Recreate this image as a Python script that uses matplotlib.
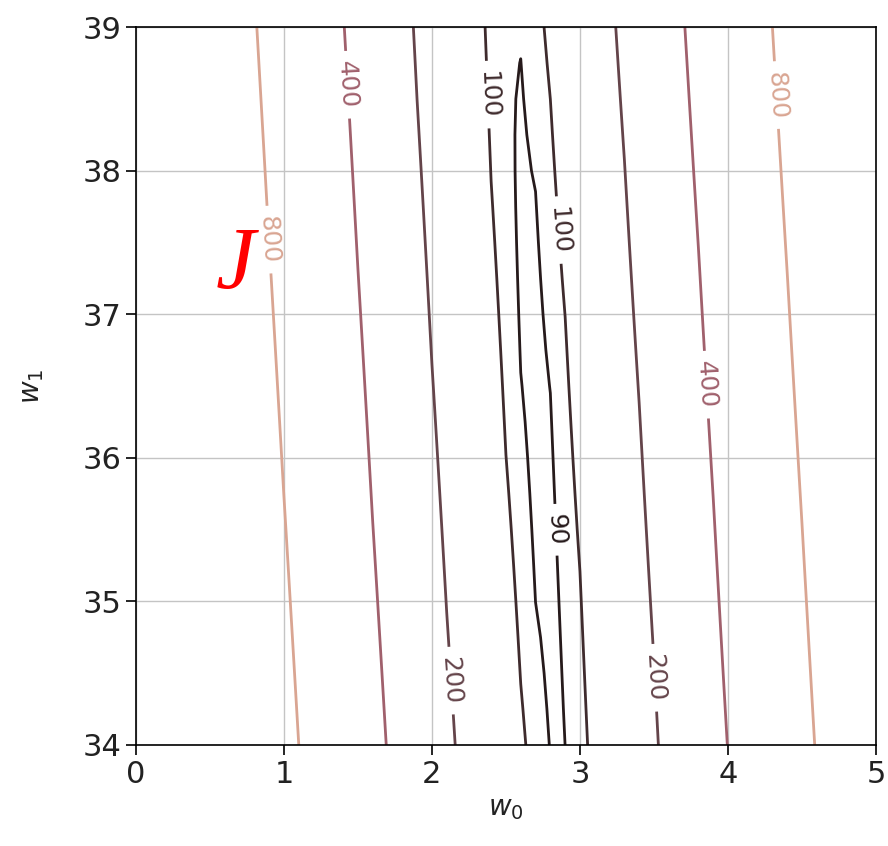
import numpy as np
import matplotlib
matplotlib.use("Agg")
from matplotlib import pyplot as plt

# cost surface J(w0, w1): quadratic bowl around a tilted valley
J_MIN = 87.8
W0_CENTRE = 2.718
W1_CENTRE = 36.2
VALLEY_SLOPE = -0.057     # shift of the valley centre in w0 per unit w1
CURV_W0 = 234.0
CURV_W1 = 0.30

levels = [90, 100, 200, 400, 800]
level_colors = ["#261a1b", "#3f2b2d", "#64444a", "#a0606c", "#d9a592"]
w0_range = [0, 5]
w1_range = [34, 39]
x_ticks = [0, 1, 2, 3, 4, 5]
y_ticks = [34, 35, 36, 37, 38, 39]

# where the inline level labels sit
label_spots = [(0.905, 37.52), (1.46, 38.6), (2.39, 38.53), (2.91, 37.59),
               (4.385, 38.53), (3.865, 36.51), (2.865, 35.5),
               (2.155, 34.45), (3.54, 34.47)]


def cost(w0, w1):
    d1 = w1 - W1_CENTRE
    d0 = w0 - (W0_CENTRE + VALLEY_SLOPE * d1)
    return J_MIN + CURV_W0 * d0 ** 2 + CURV_W1 * d1 ** 2


w0 = np.linspace(w0_range[0], w0_range[1], 51)
w1 = np.linspace(w1_range[0], w1_range[1], 21)
W0, W1 = np.meshgrid(w0, w1)
J = cost(W0, W1)

fig = plt.figure(figsize=(8.88, 8.46), dpi=100)
ax = fig.add_axes([0.153, 0.1194, 0.8335, 0.8486])

cs = ax.contour(W0, W1, J, levels=levels, colors=level_colors, linewidths=2.0)
ax.clabel(cs, fmt="%d", fontsize=18, inline=True, inline_spacing=10,
          manual=label_spots)

ax.set_xlim(w0_range)
ax.set_ylim(w1_range)
ax.set_xticks(x_ticks)
ax.set_yticks(y_ticks)
ax.tick_params(labelsize=22, length=7, width=1.2, labelcolor="#222222")
ax.grid(True, color="#c4c4c4", linewidth=1.0)
ax.set_axisbelow(True)
for sp in ax.spines.values():
    sp.set_linewidth(1.2)

ax.set_xlabel("$w_0$", fontsize=20, labelpad=4, color="#222222")
ax.set_ylabel("$w_1$", fontsize=20, labelpad=26, color="#222222")

ax.text(0.67, 37.33, "J", color="red", fontsize=64, style="italic",
        family="Liberation Serif", ha="center", va="center")

fig.savefig("out.png", dpi=100)
